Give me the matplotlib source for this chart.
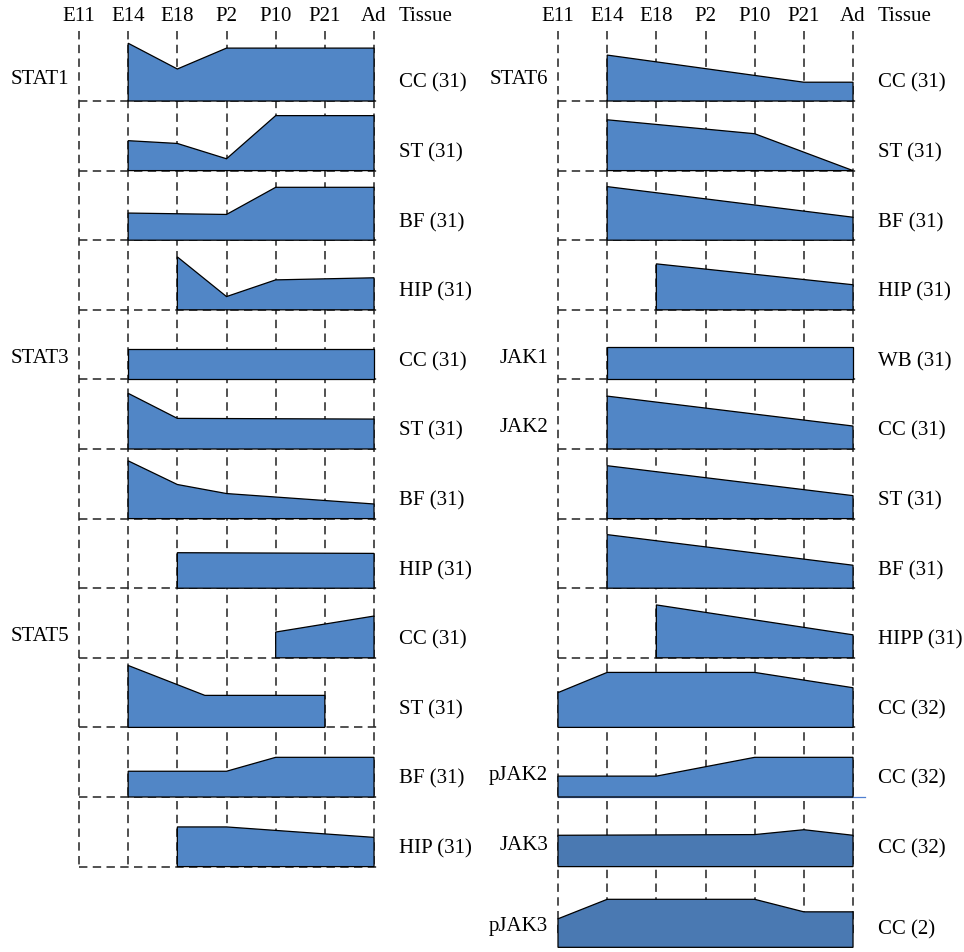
import matplotlib
matplotlib.use('Agg')
import matplotlib.pyplot as plt
from matplotlib.patches import Polygon

plt.rcParams['font.family'] = ['Liberation Serif', 'DejaVu Serif']

stages = ['E11', 'E14', 'E18', 'P2', 'P10', 'P21', 'Ad']

# left panel: STAT1 / STAT3 / STAT5
left_genes = ['STAT1', '', '', '', 'STAT3', '', '', '', 'STAT5', '', '', '']
left_tissues = ['CC (31)', 'ST (31)', 'BF (31)', 'HIP (31)',
                'CC (31)', 'ST (31)', 'BF (31)', 'HIP (31)',
                'CC (31)', 'ST (31)', 'BF (31)', 'HIP (31)']
left_x = [[1, 2, 3, 6], [1, 2, 3, 4, 6], [1, 3, 4, 6], [2, 3, 4, 6],
          [1, 6], [1, 2, 6], [1, 2, 3, 6], [2, 6],
          [4, 6], [1, 2.56, 5], [1, 3, 4, 6], [2, 3, 6]]
left_h = [[0.83, 0.46, 0.76, 0.76], [0.43, 0.39, 0.17, 0.79, 0.79],
          [0.39, 0.37, 0.76, 0.76], [0.76, 0.19, 0.43, 0.46],
          [0.44, 0.44], [0.80, 0.44, 0.43], [0.83, 0.49, 0.36, 0.21], [0.51, 0.50],
          [0.37, 0.60], [0.89, 0.46, 0.46], [0.37, 0.37, 0.57, 0.57], [0.57, 0.57, 0.42]]

# right panel: STAT6 / JAK1 / JAK2 / pJAK2 / JAK3 / pJAK3
right_genes = ['STAT6', '', '', '', 'JAK1', 'JAK2', '', '', '', '', 'pJAK2', 'JAK3', 'pJAK3']
right_tissues = ['CC (31)', 'ST (31)', 'BF (31)', 'HIP (31)', 'WB (31)',
                 'CC (31)', 'ST (31)', 'BF (31)', 'HIPP (31)',
                 'CC (32)', 'CC (32)', 'CC (32)', 'CC (2)']
right_x = [[1, 5, 6], [1, 4, 6], [1, 6], [2, 6], [1, 6],
           [1, 6], [1, 6], [1, 6], [2, 6],
           [0, 1, 4, 6], [0, 2, 4, 6], [0, 4, 5, 6], [0, 1, 4, 5, 6]]
right_h = [[0.66, 0.27, 0.27], [0.73, 0.53, 0.0], [0.77, 0.33], [0.66, 0.36], [0.47, 0.47],
           [0.76, 0.33], [0.76, 0.33], [0.77, 0.33], [0.76, 0.33],
           [0.50, 0.79, 0.79, 0.57], [0.30, 0.30, 0.57, 0.57], [0.45, 0.46, 0.53, 0.45],
           [0.41, 0.69, 0.69, 0.51, 0.51]]
right_dark = [11, 12]      # JAK3 / pJAK3 drawn in a darker blue
right_shift = {12: -0.16}  # last row sits a bit lower

W, H = 964, 953
U, V = 49.17, 69.6     # px per stage, px per row
BLUE = '#5186c6'
DARK = '#4a79b2'
DASH = (0, (5.5, 3.5))
FS = 15


def place(ax, x0, y0, xlim, ylim):
    # x0, y0: pixel position of data (0, 0)
    left = (x0 + xlim[0] * U) / W
    bottom = y0 - ylim[0] * V
    ax.set_position([left, 1 - bottom / H, (xlim[1] - xlim[0]) * U / W,
                     (ylim[1] - ylim[0]) * V / H])
    ax.set_xlim(*xlim)
    ax.set_ylim(*ylim)
    ax.axis('off')


def draw_panel(ax, genes, tissues, xs, hs, vbottom, hlines, dark=(), shift=None):
    shift = shift or {}
    for k in range(len(stages)):
        ax.plot([k, k], [0, vbottom], color='#222222', lw=1.1, linestyle=DASH, zorder=1)
        ax.text(k, 0.235, stages[k], ha='center', va='center', fontsize=FS)
    ax.text(6.5, 0.235, 'Tissue', ha='left', va='center', fontsize=FS)
    for i in range(len(tissues)):
        base = -(i + 1) + shift.get(i, 0)
        if i in hlines:
            ax.plot([0, 6.1], [-(i + 1)] * 2, color='#222222', lw=1.1, linestyle=DASH, zorder=1)
        pts = [(x, base + h) for x, h in zip(xs[i], hs[i])]
        pts += [(xs[i][-1], base), (xs[i][0], base)]
        ax.add_patch(Polygon(pts, closed=True, facecolor=DARK if i in dark else BLUE,
                             edgecolor='black', lw=0.9, zorder=2))
        ax.text(6.5, base + 0.27, tissues[i], ha='left', va='center', fontsize=FS)
        if genes[i]:
            ax.text(-0.2, base + 0.32, genes[i], ha='right', va='center', fontsize=FS)


fig = plt.figure(figsize=(W / 100, H / 100), dpi=100)
ax_l = fig.add_axes([0, 0, 1, 1])
ax_r = fig.add_axes([0, 0, 1, 1])
place(ax_l, 79, 32.4, (-1.5, 8.0), (-12.5, 0.5))
place(ax_r, 558, 32.4, (-1.5, 8.0), (-13.3, 0.5))

draw_panel(ax_l, left_genes, left_tissues, left_x, left_h, -12, list(range(12)))
draw_panel(ax_r, right_genes, right_tissues, right_x, right_h, -13, list(range(10)),
           dark=right_dark, shift=right_shift)
# pJAK2 baseline is a thin blue rule in the original
ax_r.plot([0, 6.25], [-11, -11], color='#4f7fd0', lw=0.9, zorder=1)

fig.savefig('out.png', dpi=100)
